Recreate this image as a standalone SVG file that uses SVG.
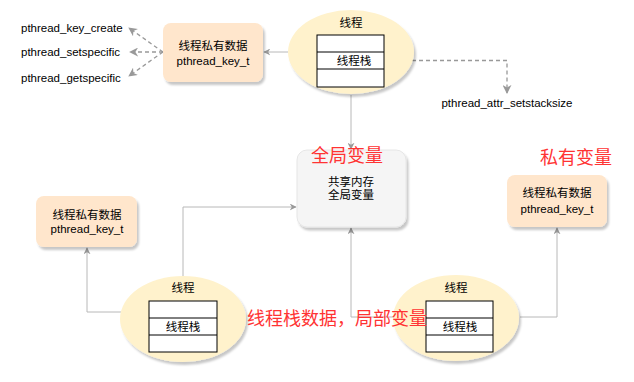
<svg xmlns="http://www.w3.org/2000/svg" width="634" height="382" viewBox="0 0 634 382">
<style>
text{font-family:"Liberation Sans","Noto Sans CJK SC",sans-serif;font-size:11.5px;fill:#000}
.mid{text-anchor:middle}
.red{fill:#ff3333;font-size:18px}
.ln{fill:none;stroke:#b8b8b8;stroke-width:1}
.dash{fill:none;stroke:#999;stroke-width:1.3;stroke-dasharray:4 3}
.peach{fill:#ffe6cc;filter:url(#sh)}
.ell{fill:#fff2cc;filter:url(#sh)}
.tbl{fill:#fff;stroke:#000;stroke-width:1}
</style>
<defs>
<filter id="sh" x="-20%" y="-20%" width="140%" height="140%">
<feDropShadow dx="2" dy="3" stdDeviation="1.2" flood-color="#000" flood-opacity="0.22"/>
</filter>
<marker id="ar" viewBox="0 0 10 10" refX="9" refY="5" markerWidth="7" markerHeight="7" orient="auto" markerUnits="userSpaceOnUse">
<path d="M0,0 L10,5 L0,10 L3,5 z" fill="#999"/>
</marker>
<marker id="ard" viewBox="0 0 10 10" refX="9" refY="5" markerWidth="9" markerHeight="9" orient="auto" markerUnits="userSpaceOnUse">
<path d="M0,0 L10,5 L0,10 L3,5 z" fill="#999"/>
</marker>
</defs>

<g id="connectors">
<path class="ln" d="M288 52 H264" marker-end="url(#ar)"/>
<path class="ln" d="M351 95 V149" marker-end="url(#ar)"/>
<path class="dash" d="M384 60.5 H507 V93" marker-end="url(#ard)"/>
<path class="dash" d="M163 52 L129 28" marker-end="url(#ard)"/>
<path class="dash" d="M163 52 L130 52" marker-end="url(#ard)"/>
<path class="dash" d="M163 52 L129 76" marker-end="url(#ard)"/>
<path class="ln" d="M122 312 H87 V248" marker-end="url(#ar)"/>
<path class="ln" d="M183 276 V207 H296" marker-end="url(#ar)"/>
<path class="ln" d="M393 317 H351 V228" marker-end="url(#ar)"/>
<path class="ln" d="M520 317 H557 V228" marker-end="url(#ar)"/>
</g>

<g id="labels-api">
<text x="21" y="32">pthread_key_create</text>
<text x="21" y="56">pthread_setspecific</text>
<text x="21" y="82">pthread_getspecific</text>
<text class="mid" x="507" y="107">pthread_attr_setstacksize</text>
</g>

<g id="key-top">
<rect class="peach" x="163" y="23" width="100" height="59" rx="8"/>
<text class="mid" x="213" y="50">线程私有数据</text>
<text class="mid" x="213" y="65">pthread_key_t</text>
</g>

<g id="thread-top">
<ellipse class="ell" cx="351" cy="52" rx="63" ry="42"/>
<text class="mid" x="351" y="27">线程</text>
<rect class="tbl" x="317" y="35" width="67" height="52"/>
<line class="tbl" x1="317" y1="52" x2="384" y2="52"/>
<line class="tbl" x1="317" y1="69" x2="384" y2="69"/>
<text class="mid" x="354" y="65">线程栈</text>
</g>

<g id="shared">
<rect x="297" y="150" width="109" height="77" rx="10" fill="#f5f5f5" stroke="#e6e6e6" filter="url(#sh)"/>
<text class="mid" x="351" y="186">共享内存</text>
<text class="mid" x="351" y="199">全局变量</text>
<text class="red mid" x="347" y="162">全局变量</text>
</g>

<g id="key-right">
<text class="red mid" x="576" y="164">私有变量</text>
<rect class="peach" x="507" y="175" width="100" height="52" rx="8"/>
<text class="mid" x="557" y="197">线程私有数据</text>
<text class="mid" x="557" y="213">pthread_key_t</text>
</g>

<g id="key-left">
<rect class="peach" x="36" y="196" width="101" height="51" rx="8"/>
<text class="mid" x="87" y="219">线程私有数据</text>
<text class="mid" x="87" y="233">pthread_key_t</text>
</g>

<g id="thread-left">
<ellipse class="ell" cx="183" cy="319" rx="63" ry="43"/>
<text class="mid" x="183" y="292">线程</text>
<rect class="tbl" x="149" y="301" width="68" height="51"/>
<line class="tbl" x1="149" y1="318" x2="217" y2="318"/>
<line class="tbl" x1="149" y1="335" x2="217" y2="335"/>
<text class="mid" x="183" y="331">线程栈</text>
</g>

<g id="thread-right">
<ellipse class="ell" cx="456" cy="318" rx="63" ry="43"/>
<text class="mid" x="456" y="292">线程</text>
<rect class="tbl" x="426" y="301" width="67" height="51"/>
<line class="tbl" x1="426" y1="318" x2="493" y2="318"/>
<line class="tbl" x1="426" y1="335" x2="493" y2="335"/>
<text class="mid" x="460" y="331">线程栈</text>
</g>

<g id="note-stack">
<text class="red" x="247" y="325">线程栈数据，局部变量</text>
</g>
</svg>
